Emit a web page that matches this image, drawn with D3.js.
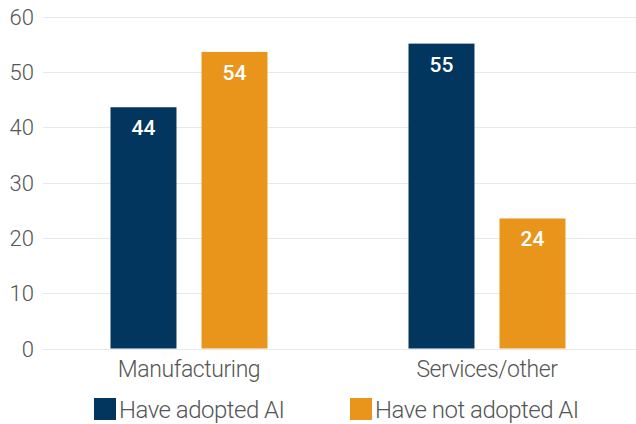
<!DOCTYPE html>
<html>
<head>
<meta charset="utf-8">
<style>
  body { margin: 0; background: #fff; }
  .grid line { stroke: #e9e9e9; stroke-width: 1; }
  .tick-label { font-family: "Roboto", sans-serif; font-weight: 300; font-size: 22px; fill: #555; }
  .cat-label { font-family: "Roboto", sans-serif; font-weight: 300; font-size: 23px; fill: #555; letter-spacing: -0.4px; }
  .legend text { font-family: "Roboto", sans-serif; font-weight: 300; font-size: 24px; fill: #555; letter-spacing: -0.5px; }
  .val { font-family: "Roboto", sans-serif; font-weight: 500; font-size: 21px; fill: #fff; }
</style>
</head>
<body>
<script src="https://d3js.org/d3.v7.min.js"></script>
<div id="chart"></div>
<script>
var categories = ["Manufacturing", "Services/other"];
var series = ["Have adopted AI", "Have not adopted AI"];
var adopted = [43.6, 55.1];
var notAdopted = [53.6, 23.5];
var yTicks = [0, 10, 20, 30, 40, 50, 60];
var colors = ["#02365f", "#e9951c"];

var width = 636, height = 424;

var svg = d3.select("#chart").append("svg")
    .attr("width", width)
    .attr("height", height);

var y = d3.scaleLinear().domain([0, 60]).range([348.5, 16.5]);

var x0 = d3.scaleBand().domain(categories).range([40, 636]);
var x1 = d3.scaleBand().domain(series).range([-78.5, 78.5]).paddingInner(0.275);

// gridlines
svg.append("g").attr("class", "grid")
  .selectAll("line").data(yTicks).enter().append("line")
    .attr("x1", 43).attr("x2", width)
    .attr("y1", function(d) { return Math.round(y(d)) + 0.5; })
    .attr("y2", function(d) { return Math.round(y(d)) + 0.5; });

svg.selectAll(".tick-label").data(yTicks).enter().append("text")
    .attr("class", "tick-label")
    .attr("x", 34)
    .attr("y", function(d) { return y(d) + 8; })
    .attr("text-anchor", "end")
    .text(function(d) { return d; });

var rows = categories.map(function(c, i) {
  return { cat: c, vals: [adopted[i], notAdopted[i]] };
});

var groups = svg.selectAll(".grp").data(rows).enter().append("g")
    .attr("class", "grp")
    .attr("transform", function(d) { return "translate(" + (x0(d.cat) + x0.bandwidth() / 2) + ",0)"; });

groups.selectAll("rect").data(function(d) { return d.vals; }).enter().append("rect")
    .attr("x", function(d, i) { return x1(series[i]); })
    .attr("width", x1.bandwidth())
    .attr("y", function(d) { return y(d); })
    .attr("height", function(d) { return y(0) - y(d); })
    .attr("fill", function(d, i) { return colors[i]; });

groups.selectAll(".val").data(function(d) { return d.vals; }).enter().append("text")
    .attr("class", "val")
    .attr("x", function(d, i) { return x1(series[i]) + x1.bandwidth() / 2; })
    .attr("y", function(d) { return y(d) + 28; })
    .attr("text-anchor", "middle")
    .text(function(d) { return Math.round(d); });

groups.append("text")
    .attr("class", "cat-label")
    .attr("x", 0)
    .attr("y", 377)
    .attr("text-anchor", "middle")
    .text(function(d) { return d.cat; });

// legend
var legendX = [94, 350];
var legend = svg.selectAll(".legend").data(series).enter().append("g")
    .attr("class", "legend")
    .attr("transform", function(d, i) { return "translate(" + legendX[i] + ",398)"; });
legend.append("rect")
    .attr("width", 22).attr("height", 22)
    .attr("fill", function(d, i) { return colors[i]; });
legend.append("text")
    .attr("x", 25).attr("y", 20)
    .text(function(d) { return d; });
</script>
</body>
</html>
